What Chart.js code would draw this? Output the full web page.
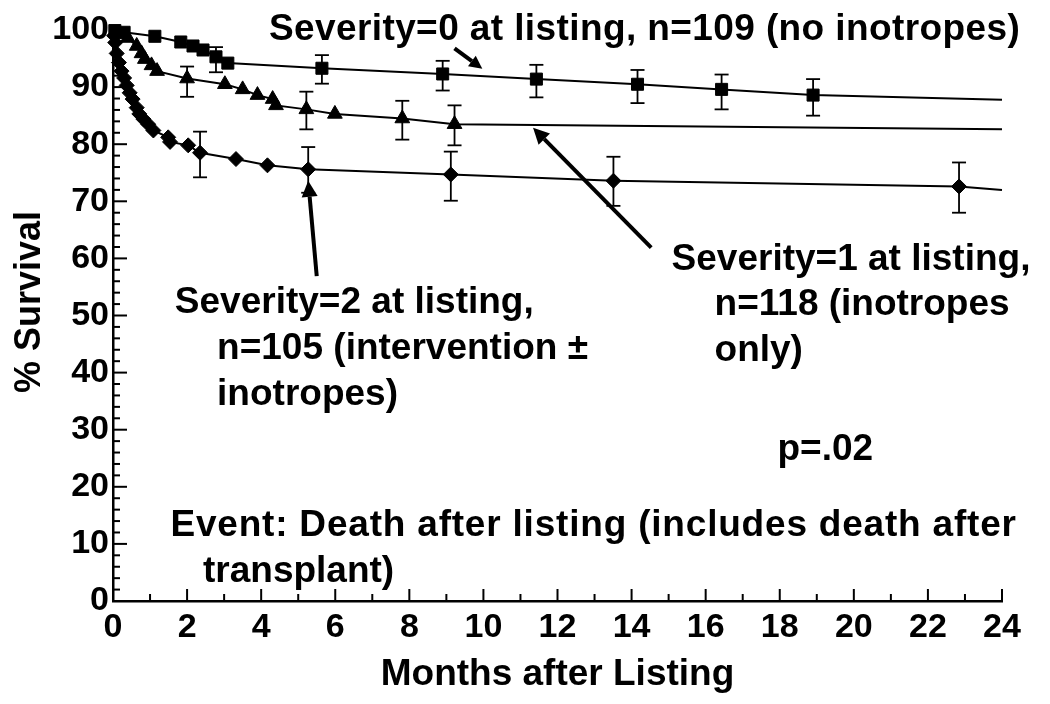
<!DOCTYPE html>
<html lang="en">
<head>
<meta charset="UTF-8">
<title>% Survival by Severity at Listing</title>
<script src="https://cdn.jsdelivr.net/npm/chart.js"></script>
<style>
  body { margin: 0; background: #ffffff; }
  #wrap { width: 1050px; height: 704px; }
</style>
</head>
<body>
<div id="wrap"><canvas id="survChart" width="1050" height="704"></canvas></div>
<script>
// Tick values
const xTicks = [0, 2, 4, 6, 8, 10, 12, 14, 16, 18, 20, 22, 24];
const xMinorTicks = [1, 3, 5, 7, 9, 11, 13, 15, 17, 19, 21, 23];
const yTicks = [0, 10, 20, 30, 40, 50, 60, 70, 80, 90, 100];
const yMinorTicks = [2, 4, 6, 8, 12, 14, 16, 18, 22, 24, 26, 28, 32, 34, 36, 38, 42, 44, 46, 48,
  52, 54, 56, 58, 62, 64, 66, 68, 72, 74, 76, 78, 82, 84, 86, 88, 92, 94, 96, 98];

// Severity=0 (squares)
const sev0Months = [0.05, 0.30, 1.13, 1.83, 2.16, 2.43, 2.78, 3.10, 5.64, 8.90, 11.43, 14.16, 16.43, 18.90];
const sev0Surv   = [99.9, 99.6, 98.9, 97.9, 97.2, 96.5, 95.3, 94.2, 93.3, 92.3, 91.4, 90.5, 89.6, 88.6];
const sev0Lo     = [null, null, null, null, null, null, 92.6, null, 90.6, 89.4, 88.2, 87.2, 86.1, 85.0];
const sev0Hi     = [null, null, null, null, null, null, 97.0, null, 95.6, 94.6, 93.9, 93.0, 92.2, 91.4];

// Severity=1 (triangles)
const sev1Months = [0.13, 0.40, 0.64, 0.77, 0.86, 1.04, 1.19, 2.00, 3.02, 3.50, 3.90, 4.31, 4.40, 5.22, 5.99, 7.81, 9.22];
const sev1Surv   = [99.3, 98.6, 97.2, 95.9, 94.9, 93.8, 92.8, 91.5, 90.5, 89.6, 88.6, 87.9, 86.8, 86.1, 85.3, 84.5, 83.5];
const sev1Lo     = [null, null, null, null, null, null, null, 88.3, null, null, null, null, null, 82.6, null, 80.8, 79.8];
const sev1Hi     = [null, null, null, null, null, null, null, 93.6, null, null, null, null, null, 89.2, null, 87.6, 86.8];

// Severity=2 (diamonds)
const sev2Months = [0.03, 0.06, 0.10, 0.16, 0.23, 0.30, 0.37, 0.45, 0.53, 0.64, 0.71, 0.82, 0.95, 1.09, 1.49, 1.54, 2.03, 2.35, 3.32, 4.17, 5.27, 9.12, 13.51, 22.84];
const sev2Surv   = [99.0, 97.8, 95.9, 94.3, 92.8, 91.6, 90.3, 89.0, 87.9, 86.4, 85.3, 84.4, 83.5, 82.4, 81.2, 80.4, 79.8, 78.5, 77.4, 76.3, 75.6, 74.7, 73.6, 72.6];
const sev2Lo     = [null, null, null, null, null, null, null, null, null, null, null, null, null, null, null, null, null, 74.2, null, null, 71.5, 70.1, 69.2, 68.0];
const sev2Hi     = [null, null, null, null, null, null, null, null, null, null, null, null, null, null, null, null, null, 82.2, null, null, 79.5, 78.7, 77.8, 76.8];

// where each fitted curve ends at 24 months
const curveEnd = [87.8, 82.6, 72.0];

const FONT = "'Liberation Sans', Arial, sans-serif";

function curveData(months, surv, end) {
  const pts = [{ x: 0, y: 100 }];
  months.forEach((m, i) => pts.push({ x: m, y: surv[i] }));
  pts.push({ x: 24, y: end });
  return pts;
}
function radii(n, r) {
  return [0].concat(new Array(n).fill(r)).concat([0]);
}

const series = [
  { months: sev0Months, surv: sev0Surv, lo: sev0Lo, hi: sev0Hi, style: 'rect', r: 8.5 },
  { months: sev1Months, surv: sev1Surv, lo: sev1Lo, hi: sev1Hi, style: 'triangle', r: 8.5 },
  { months: sev2Months, surv: sev2Surv, lo: sev2Lo, hi: sev2Hi, style: 'rectRot', r: 7.5 }
];

// annotation texts (anchored in data units)
const labels = [
  { text: 'Severity=0 at listing, n=109 (no inotropes)', x: 14.35, y: 98.2, align: 'center', spacing: 0.4 },
  { text: 'Severity=1 at listing,', x: 15.08, y: 58.0, align: 'left', spacing: 0 },
  { text: 'n=118 (inotropes', x: 16.24, y: 50.1, align: 'left', spacing: 0 },
  { text: 'only)', x: 16.24, y: 42.0, align: 'left', spacing: 0 },
  { text: 'Severity=2 at listing,', x: 1.67, y: 50.4, align: 'left', spacing: 0 },
  { text: 'n=105 (intervention \u00b1', x: 2.81, y: 42.4, align: 'left', spacing: 0 },
  { text: 'inotropes)', x: 2.81, y: 34.3, align: 'left', spacing: 0 },
  { text: 'p=.02', x: 19.23, y: 24.7, align: 'center', spacing: 0 },
  { text: 'Event: Death after listing (includes death after', x: 1.55, y: 11.4, align: 'left', spacing: 0.8 },
  { text: 'transplant)', x: 2.43, y: 3.4, align: 'left', spacing: 0 }
];
const arrows = [
  { x1: 9.22, y1: 96.8, x2: 9.97, y2: 93.2, head: 13 },
  { x1: 14.53, y1: 61.9, x2: 11.34, y2: 82.9, head: 16 },
  { x1: 5.50, y1: 56.9, x2: 5.27, y2: 73.6, head: 16 }
];

const extrasPlugin = {
  id: 'extras',
  afterDatasetsDraw(chart) {
    const ctx = chart.ctx;
    const xs = chart.scales.x, ys = chart.scales.y;
    ctx.save();
    ctx.strokeStyle = '#000';
    ctx.fillStyle = '#000';

    // inward tick marks
    ctx.lineWidth = 2;
    const left = xs.left, bottom = ys.bottom;
    const tick = (x1, y1, x2, y2) => { ctx.beginPath(); ctx.moveTo(x1, y1); ctx.lineTo(x2, y2); ctx.stroke(); };
    xTicks.forEach(v => { const p = xs.getPixelForValue(v); tick(p, bottom, p, bottom - 12); });
    xMinorTicks.forEach(v => { const p = xs.getPixelForValue(v); tick(p, bottom, p, bottom - 7); });
    yTicks.forEach(v => { const p = ys.getPixelForValue(v); tick(left, p, left + 14, p); });
    yMinorTicks.forEach(v => { const p = ys.getPixelForValue(v); tick(left, p, left + 7, p); });

    // error bars
    ctx.lineWidth = 1.8;
    series.forEach(s => {
      s.months.forEach((m, i) => {
        if (s.lo[i] == null) return;
        const px = xs.getPixelForValue(m);
        const pLo = ys.getPixelForValue(s.lo[i]);
        const pHi = ys.getPixelForValue(s.hi[i]);
        tick(px, pLo, px, pHi);
        tick(px - 7, pLo, px + 7, pLo);
        tick(px - 7, pHi, px + 7, pHi);
      });
    });

    // arrows
    arrows.forEach(a => {
      const x1 = xs.getPixelForValue(a.x1), y1 = ys.getPixelForValue(a.y1);
      const x2 = xs.getPixelForValue(a.x2), y2 = ys.getPixelForValue(a.y2);
      const ang = Math.atan2(y2 - y1, x2 - x1);
      const bx = x2 - Math.cos(ang) * a.head, by = y2 - Math.sin(ang) * a.head;
      ctx.lineWidth = 4;
      tick(x1, y1, bx, by);
      ctx.beginPath();
      ctx.moveTo(x2, y2);
      ctx.lineTo(bx + Math.cos(ang + Math.PI / 2) * a.head * 0.5, by + Math.sin(ang + Math.PI / 2) * a.head * 0.5);
      ctx.lineTo(bx + Math.cos(ang - Math.PI / 2) * a.head * 0.5, by + Math.sin(ang - Math.PI / 2) * a.head * 0.5);
      ctx.closePath();
      ctx.fill();
    });

    // text annotations
    ctx.font = 'bold 37px ' + FONT;
    ctx.textBaseline = 'alphabetic';
    labels.forEach(l => {
      ctx.letterSpacing = l.spacing + 'px';
      ctx.textAlign = l.align;
      ctx.fillText(l.text, xs.getPixelForValue(l.x), ys.getPixelForValue(l.y));
    });
    ctx.letterSpacing = '0px';

    // y axis title, drawn by hand so it sits a bit above centre like the original
    ctx.translate(30, 302);
    ctx.rotate(-Math.PI / 2);
    ctx.textAlign = 'center';
    ctx.textBaseline = 'middle';
    ctx.font = 'bold 36px ' + FONT;
    ctx.fillText('% Survival', 0, 0);
    ctx.restore();
  }
};

new Chart(document.getElementById('survChart').getContext('2d'), {
  type: 'scatter',
  data: {
    datasets: series.map((s, k) => ({
      label: 'Severity=' + k,
      data: curveData(s.months, s.surv, curveEnd[k]),
      showLine: true,
      borderColor: '#000',
      borderWidth: 2,
      tension: 0,
      pointStyle: s.style,
      pointRadius: radii(s.months.length, s.r),
      pointBackgroundColor: '#000',
      pointBorderColor: '#000',
      pointBorderWidth: 1,
      clip: false
    }))
  },
  options: {
    responsive: false,
    animation: false,
    devicePixelRatio: 1,
    layout: { padding: { top: 30, right: 48, left: 0, bottom: 0 } },
    plugins: { legend: { display: false }, tooltip: { enabled: false } },
    scales: {
      x: {
        type: 'linear', min: 0, max: 24,
        afterBuildTicks: sc => { sc.ticks = xTicks.map(v => ({ value: v })); },
        afterFit: sc => { sc.height = 103; },
        grid: { display: true, drawOnChartArea: false, drawTicks: false },
        border: { display: true, color: '#000', width: 2.5 },
        ticks: { color: '#000', padding: 6, maxRotation: 0, autoSkip: false, font: { family: FONT, size: 34, weight: 'bold' } },
        title: { display: true, text: 'Months after Listing', color: '#000', padding: { top: 0, bottom: 7 }, font: { family: FONT, size: 37, weight: 'bold' } }
      },
      y: {
        type: 'linear', min: 0, max: 100,
        afterBuildTicks: sc => { sc.ticks = yTicks.map(v => ({ value: v })); },
        afterFit: sc => { sc.width = 113; },
        grid: { display: true, drawOnChartArea: false, drawTicks: false },
        border: { display: true, color: '#000', width: 2.5 },
        ticks: { color: '#000', padding: 4, autoSkip: false, font: { family: FONT, size: 34, weight: 'bold' } },
        title: { display: false }
      }
    }
  },
  plugins: [extrasPlugin]
});
</script>
</body>
</html>
